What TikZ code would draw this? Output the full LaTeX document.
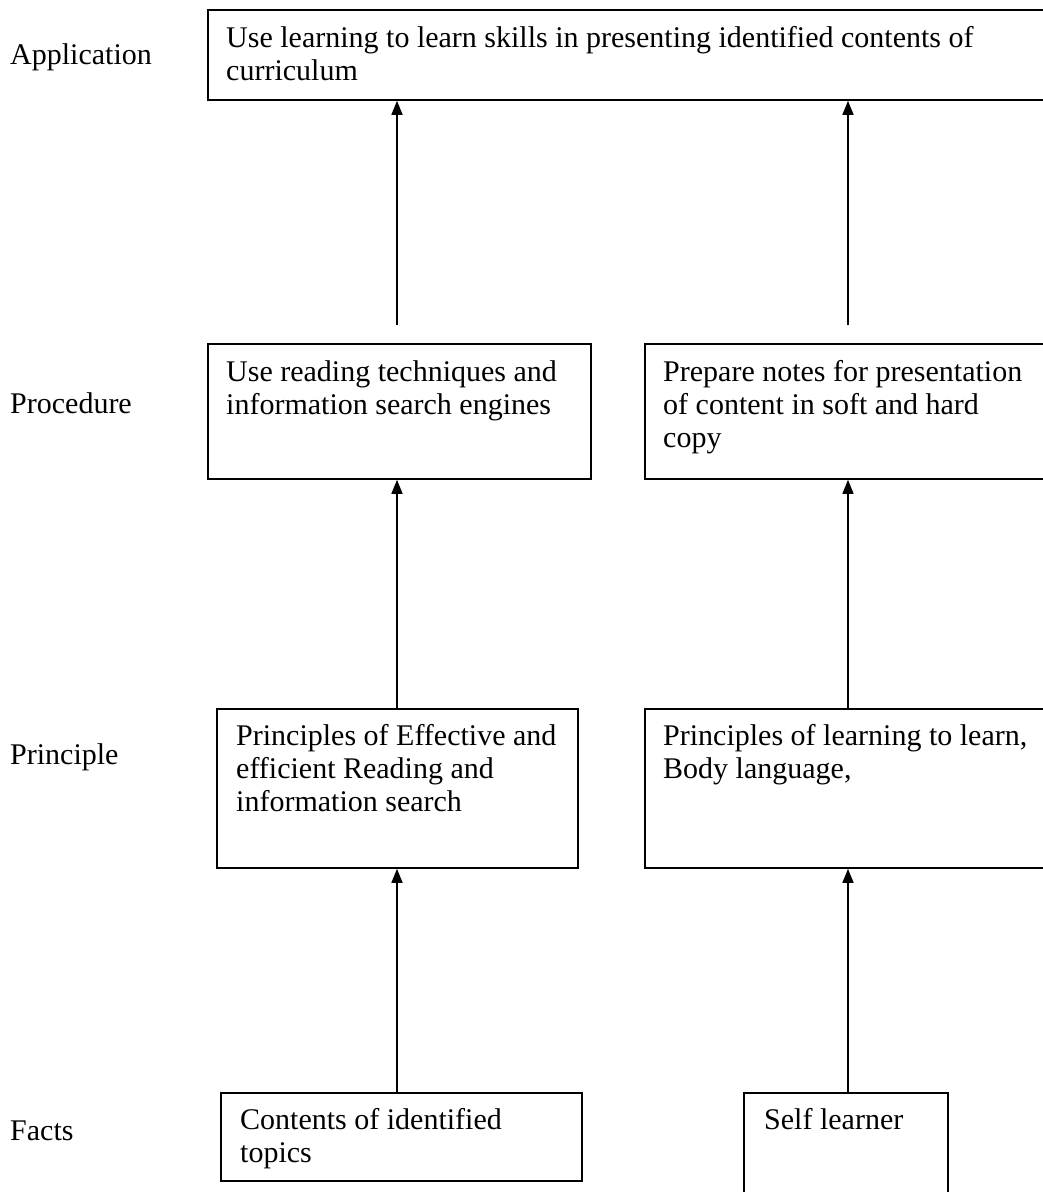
\documentclass[tikz,border=0pt]{standalone}
\usepackage{fontspec}
\setmainfont{Liberation Serif}
\usetikzlibrary{arrows.meta}
\newcommand\mlines[1]{\begin{tabular}[t]{@{}l@{}}#1\end{tabular}}
\tikzset{
  box/.style={draw, line width=1.8pt, inner sep=0pt, anchor=north west},
  txt/.style={anchor=base west, inner sep=0pt, font=\fontsize{30}{33}\selectfont},
  conn/.style={line width=1.5pt, -{Triangle[length=14pt,width=11pt]}},
}
\begin{document}
\begin{tikzpicture}[x=1pt,y=-1pt]
\useasboundingbox (0,0) rectangle (1042,1192);
% level labels
\node[txt] (lapp) at (10,64) {Application};
\node[txt] (lproc) at (10,413) {Procedure};
\node[txt] (lprin) at (10,764) {Principle};
\node[txt] (lfact) at (10,1140) {Facts};
% boxes
\node[box, minimum width=839, minimum height=90] (app) at (207,9) {};
\node[box, minimum width=383, minimum height=135] (procL) at (207,343) {};
\node[box, minimum width=402, minimum height=135] (procR) at (644,343) {};
\node[box, minimum width=361, minimum height=159] (prinL) at (216,708) {};
\node[box, minimum width=402, minimum height=159] (prinR) at (644,708) {};
\node[box, minimum width=361, minimum height=88] (factL) at (220,1092) {};
\node[box, minimum width=204, minimum height=120] (factR) at (743,1092) {};
% box texts
\node[txt] (tapp) at (226,47) {\mlines{Use learning to learn skills in presenting identified contents of\\curriculum}};
\node[txt] (tprocL) at (226,381) {\mlines{Use reading techniques and\\information search engines}};
\node[txt] (tprocR) at (663,381) {\mlines{Prepare notes for presentation\\of content in soft and hard\\copy}};
\node[txt] (tprinL) at (236,745) {\mlines{Principles of Effective and\\efficient Reading and\\information search}};
\node[txt] (tprinR) at (663,745) {\mlines{Principles of learning to learn,\\Body language,}};
\node[txt] (tfactL) at (240,1129) {\mlines{Contents of identified\\topics}};
\node[txt] (tfactR) at (764,1129) {Self learner};
% arrow columns and free ends
\coordinate (colL) at (397,0);
\coordinate (colR) at (848,0);
\coordinate (startL) at (397,325);
\coordinate (startR) at (848,325);
% connectors
\draw[conn] (startL) -- (app.south -| colL);
\draw[conn] (startR) -- (app.south -| colR);
\draw[conn] (prinL.north -| colL) -- (procL.south -| colL);
\draw[conn] (prinR.north -| colR) -- (procR.south -| colR);
\draw[conn] (factL.north -| colL) -- (prinL.south -| colL);
\draw[conn] (factR.north -| colR) -- (prinR.south -| colR);
\end{tikzpicture}
\end{document}
